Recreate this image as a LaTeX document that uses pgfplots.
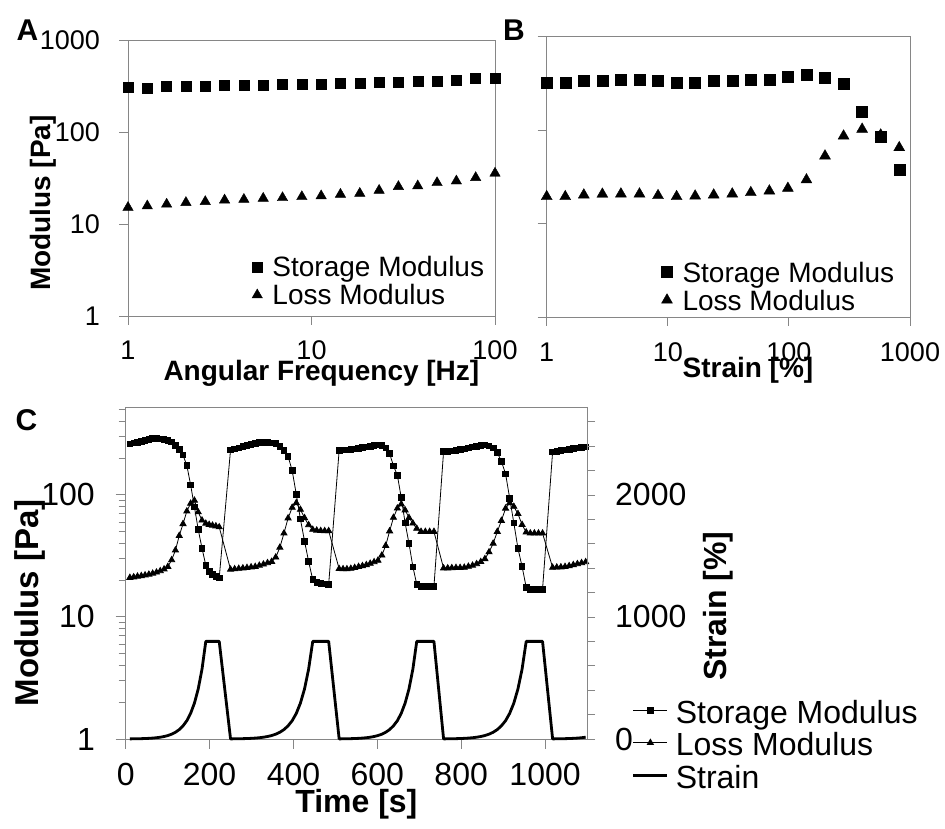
\documentclass[border=0pt]{standalone}
\usepackage{pgfplots}
\pgfplotsset{compat=1.18}
\usepackage{pgfplotstable}
\usepackage{fontspec}
\setmainfont{Liberation Sans}
\newcommand\fs[1]{\fontsize{#1}{#1}\selectfont}
\definecolor{axgray}{RGB}{134,134,134}

\pgfplotstableread{
x G1 G2
1.000 303 15.1
1.274 299 15.7
1.624 311 16.4
2.069 311 17.1
2.637 311 17.5
3.360 322 18.2
4.281 322 18.5
5.456 322 19.0
6.952 330 19.3
8.859 330 19.8
11.29 330 20.2
14.38 338 21.0
18.33 338 21.5
23.36 349 23.2
29.76 349 25.5
37.93 358 25.9
48.33 358 28.1
61.58 364 29.3
78.48 380 31.9
100.0 384 35.6
}\dataA

\pgfplotstableread{
x G1 G2
1.000 320 19.4
1.423 320 19.4
2.025 333 20.2
2.882 333 20.6
4.101 342 20.7
5.836 342 20.7
8.305 333 19.9
11.82 320 19.4
16.82 320 19.7
23.93 333 20.2
34.06 333 20.7
48.46 342 21.4
68.96 348 22.3
98.10 371 23.8
139.6 387 29.3
198.7 362 52.8
282.8 310 86.3
402.4 157 102
572.7 84.9 88.5
815.0 37.4 64.8
}\dataB

\pgfplotstableread{
t G1 G2 S
10.0 262 21.0 1.00
19.1 266 21.2 1.40
28.1 270 21.5 1.95
37.2 275 21.7 2.73
46.2 280 22.0 3.81
55.3 285 22.3 5.32
64.3 289 22.7 7.43
73.4 290 23.2 10.4
82.4 288 23.8 14.5
91.5 285 24.6 20.3
100.5 280 25.8 28.3
109.6 272 29.3 39.5
118.6 255 35.2 55.2
127.7 236 46.3 77.1
136.7 212 57.9 108
145.8 174 73.5 150
154.8 121 85.0 210
163.9 79.6 90.0 294
172.9 52.1 72.3 410
182.0 36.5 61.9 573
191.0 26.5 58.3 800
199.0 23.5 57.0 800
207.0 22.3 56.2 800
215.0 21.5 55.5 800
223.0 20.9 54.5 800
250.0 234 24.5 1.00
259.8 238 24.7 1.40
269.6 243 24.9 1.95
279.4 249 25.1 2.73
289.2 254 25.3 3.81
299.0 260 25.6 5.32
308.8 265 25.8 7.43
318.6 268 26.4 10.4
328.4 270 27.0 14.5
338.2 269 27.7 20.3
348.0 267 28.4 28.3
357.8 263 30.8 39.5
367.6 250 37.1 55.2
377.4 231 48.5 77.1
387.2 207 64.5 108
397.0 158 78.7 150
406.8 101 86.0 210
416.6 63.5 75.8 294
426.4 41.8 64.8 410
436.2 28.5 56.7 573
446.0 20.2 52.0 800
455.5 19.2 51.2 800
465.0 18.9 50.8 800
474.5 18.7 50.7 800
484.0 18.5 50.7 800
509.0 232 24.8 1.00
518.3 233 24.7 1.40
527.5 234 24.7 1.95
536.8 235 24.9 2.73
546.0 238 25.3 3.81
555.3 241 25.8 5.32
564.5 244 26.2 7.43
573.8 247 26.7 10.4
583.0 251 27.4 14.5
592.3 255 28.2 20.3
601.5 257 29.0 28.3
610.8 255 32.0 39.5
620.0 242 38.4 55.2
629.3 218 50.5 77.1
638.5 173 65.2 108
647.8 145 77.6 150
657.0 95.0 84.0 210
666.3 59.0 75.0 294
675.5 40.0 65.0 410
684.8 25.8 58.5 573
694.0 18.5 53.0 800
704.3 17.7 50.0 800
714.5 17.7 50.0 800
724.8 17.7 50.0 800
735.0 17.7 50.0 800
758.0 226 25.1 1.00
767.9 228 25.1 1.40
777.7 230 25.2 1.95
787.6 232 25.3 2.73
797.4 235 25.3 3.81
807.3 238 25.4 5.32
817.1 242 25.9 7.43
827.0 247 26.4 10.4
836.8 251 27.2 14.5
846.7 254 28.3 20.3
856.5 256 29.9 28.3
866.4 252 34.0 39.5
876.2 243 40.0 55.2
886.1 222 50.0 77.1
895.9 188 61.5 108
905.8 149 77.5 150
915.6 94.0 86.0 210
925.5 59.0 80.2 294
935.3 36.5 70.0 410
945.2 25.9 57.0 573
955.0 17.5 49.5 800
964.8 16.9 48.5 800
974.5 16.9 48.5 800
984.3 16.9 48.5 800
994.0 16.9 48.5 800
1018.0 225 25.4 1.00
1027.9 228 25.5 1.40
1037.7 231 25.6 1.95
1047.6 234 25.8 2.73
1057.4 237 26.2 3.81
1067.3 240 26.7 5.32
1077.1 243 27.2 7.43
1087.0 246 27.7 10.4
1096.8 248 28.2 14.5
}\dataC

\pgfplotsset{
  panel/.style={
    scale only axis,
    axis line style={axgray, line width=0.9pt},
    every tick/.style={axgray, line width=0.9pt},
    tick align=outside,
    tick pos=left,
  },
  mklegend/.style={
    legend cell align=left,
    legend style={draw=none, fill=none, inner sep=0pt, outer sep=0pt,
      font=\fs{28}, anchor=north west,
      nodes={inner sep=0pt, text height=20pt, text depth=8pt},
      /tikz/every odd column/.append style={column sep=10pt}},
  },
  dotlegend/.style={legend image code/.code={\draw[##1] plot coordinates {(5.5pt,4pt)};}},
}

\begin{document}
\begin{tikzpicture}
\useasboundingbox (0pt,0pt) rectangle (945pt,829pt);

% ---------------- Panel A ----------------
\begin{axis}[panel, mklegend,
  at={(128pt,513pt)}, anchor=south west, width=367pt, height=276pt,
  xmode=log, ymode=log, xmin=1, xmax=100, ymin=1, ymax=1000,
  xtick={1,10,100}, xticklabels={1,10,100},
  ytick={1,10,100,1000}, yticklabels={1,10,100,1000},
  xminorticks=false, yminorticks=false, major tick length=9pt,
  xticklabel style={font=\fs{27}, inner sep=0pt, anchor=north, yshift=-15.5pt},
  yticklabel style={font=\fs{27}, inner sep=0pt, anchor=east, xshift=-19pt},
  xlabel={Angular Frequency [Hz]}, ylabel={Modulus [Pa]},
  xlabel style={font=\bfseries\fs{28}, at={(axis description cs:0.527,0)}, anchor=center, yshift=-57pt},
  ylabel style={font=\bfseries\fs{28}, at={(axis description cs:-0.2316,0.409)}, anchor=center, rotate=0},
  legend style={at={(0.338,0.2138)}},
]
\addplot[black, only marks, mark=square*, mark size=5pt, dotlegend] table[x=x,y=G1]{\dataA};
\addlegendentry{Storage Modulus}
\addplot[black, only marks, mark=triangle*, mark size=6pt, dotlegend] table[x=x,y=G2]{\dataA};
\addlegendentry{Loss Modulus}
\end{axis}

% ---------------- Panel B ----------------
\begin{axis}[panel, mklegend,
  at={(546.7pt,512pt)}, anchor=south west, width=363.3pt, height=280.5pt,
  xmode=log, ymode=log, xmin=1, xmax=1000, ymin=1, ymax=1000,
  xtick={1,10,100,1000}, xticklabels={1,10,100,1000},
  ytick={1,10,100,1000}, yticklabels={},
  xminorticks=false, yminorticks=false, major tick length=9pt,
  xticklabel style={font=\fs{27}, inner sep=0pt, anchor=north, yshift=-16.4pt},
  xlabel={Strain [\%]},
  xlabel style={font=\bfseries\fs{28}, at={(axis description cs:0.554,0)}, anchor=center, yshift=-53pt},
  legend style={at={(0.316,0.196)}},
]
\addplot[black, only marks, mark=square*, mark size=5.5pt, dotlegend] table[x=x,y=G1]{\dataB};
\addlegendentry{Storage Modulus}
\addplot[black, only marks, mark=triangle*, mark size=6.3pt, dotlegend] table[x=x,y=G2]{\dataB};
\addlegendentry{Loss Modulus}
\end{axis}

% ---------------- Panel C (left axis) ----------------
\begin{axis}[panel,
  at={(125.7pt,90pt)}, anchor=south west, width=461.3pt, height=332pt,
  ymode=log, xmin=0, xmax=1100, ymin=1, ymax=525,
  xtick={0,200,400,600,800,1000}, xticklabels={0,200,400,600,800,1000},
  ytick={1,10,100}, yticklabels={1,10,100},
  minor ytick={2,3,4,5,6,7,8,9,20,30,40,50,60,70,80,90,200,300,400,500},
  xminorticks=false,
  major tick length=10pt, minor tick length=7pt, clip=false,
  xticklabel style={font=\fs{32}, inner sep=0pt, anchor=north, yshift=-13.5pt},
  yticklabel style={font=\fs{32}, inner sep=0pt, anchor=east, xshift=-20.7pt},
  xlabel={Time [s]}, ylabel={Modulus [Pa]},
  xlabel style={font=\bfseries\fs{32}, at={(axis description cs:0.5,0)}, anchor=center, yshift=-65pt},
  ylabel style={font=\bfseries\fs{33}, at={(axis description cs:-0.2075,0.41)}, anchor=center, rotate=0},
]
\addplot[black, line width=0.8pt, mark=square*, mark size=2.8pt, mark options={solid}] table[x=t,y=G1]{\dataC};
\addplot[black, line width=0.8pt, mark=triangle*, mark size=3.5pt, mark options={solid}] table[x=t,y=G2]{\dataC};
\end{axis}

% ---------------- Panel C (right axis) ----------------
\begin{axis}[panel,
  at={(125.7pt,90pt)}, anchor=south west, width=461.3pt, height=332pt,
  xmin=0, xmax=1100, ymin=0, ymax=2721,
  hide x axis, ytick pos=right,
  ytick={0,1000,2000}, yticklabels={0,1000,2000},
  minor ytick={200,400,600,800,1200,1400,1600,1800,2200,2400,2600},
  major tick length=8pt, minor tick length=8pt, clip=false,
  yticklabel style={font=\fs{32}, inner sep=0pt, anchor=west, xshift=20pt},
  ylabel={Strain [\%]},
  ylabel style={font=\bfseries\fs{32}, at={(axis description cs:1.284,0.4006)}, anchor=center, rotate=0},
  legend cell align=left,
  legend style={draw=none, fill=none, inner sep=0pt, outer sep=0pt,
      font=\fs{32}, anchor=north west, at={(1.0975,0.116)},
      nodes={inner sep=0pt, text height=23pt, text depth=9.5pt},
      /tikz/every odd column/.append style={column sep=7pt}},
  legend image code/.code={\draw[mark repeat=2,mark phase=2,#1] plot coordinates {(0pt,6.5pt) (17pt,6.5pt) (34pt,6.5pt)};},
]
\addlegendimage{black, line width=0.8pt, mark=square*, mark size=2.8pt, mark options={solid}}
\addlegendentry{Storage Modulus}
\addlegendimage{black, line width=0.8pt, mark=triangle*, mark size=3.5pt, mark options={solid}}
\addlegendentry{Loss Modulus}
\addplot[black, line width=2.8pt, line join=round] table[x=t,y=S]{\dataC};
\addlegendentry{Strain}
\end{axis}

\node at (27.5pt,799pt) {\bfseries\fontsize{30}{30}\selectfont A};
\node at (514pt,799pt) {\bfseries\fontsize{30}{30}\selectfont B};
\node at (26.5pt,409pt) {\bfseries\fontsize{30}{30}\selectfont C};
\end{tikzpicture}
\end{document}
